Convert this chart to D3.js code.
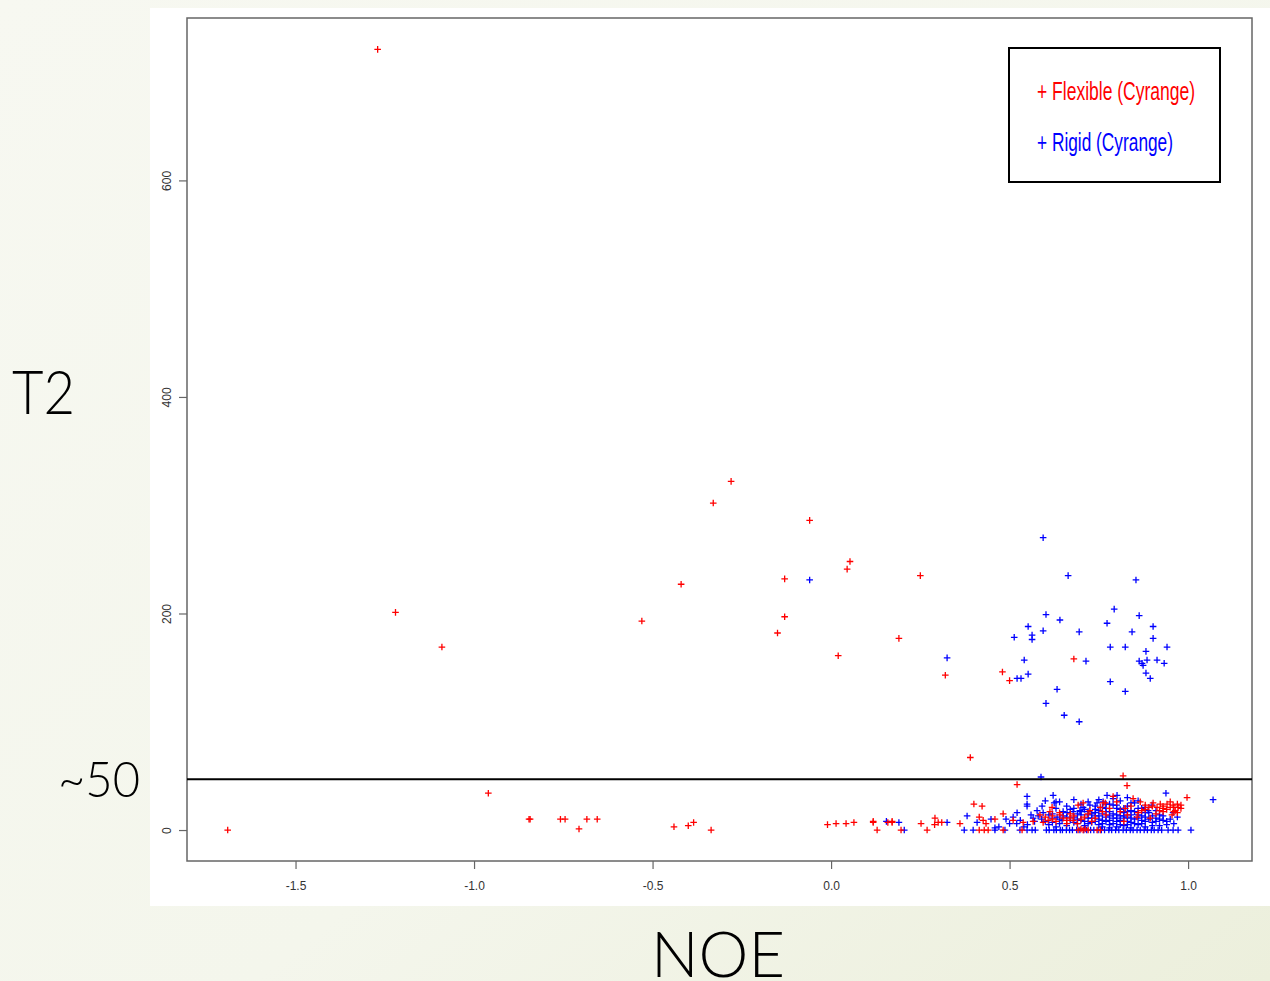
<!DOCTYPE html>
<html>
<head>
<meta charset="utf-8">
<script src="https://cdn.jsdelivr.net/npm/d3@7.9.0/dist/d3.min.js"></script>
<style>
  html, body { margin: 0; padding: 0; }
  body { width: 1270px; height: 981px; overflow: hidden; }
</style>
</head>
<body>
<svg id="chart" width="1270" height="981"></svg>
<script>
// NOE on x, T2 on y; [noe, t2]
const flexible = [
  [-1.69, 0], [-1.27, 721], [-1.22, 201], [-1.09, 169], [-0.96, 34],
  [-0.846, 10], [-0.843, 10], [-0.758, 10], [-0.745, 10], [-0.706, 1],
  [-0.684, 10], [-0.655, 10], [-0.53, 193], [-0.44, 3], [-0.40, 4],
  [-0.385, 7], [-0.42, 227], [-0.336, 0], [-0.33, 302], [-0.28, 322],
  [-0.13, 232], [-0.13, 197], [-0.15, 182], [-0.06, 286], [-0.01, 5],
  [0.014, 6], [0.02, 161], [0.042, 6], [0.045, 241], [0.053, 248],
  [0.064, 7], [0.118, 8], [0.129, 0], [0.159, 7], [0.171, 8],
  [0.19, 177], [0.25, 235], [0.32, 143], [0.39, 67], [0.48, 146],
  [0.50, 138], [0.68, 158],
  [0.118, 7], [0.171, 7], [0.196, 0], [0.252, 6], [0.269, 0],
  [0.291, 11], [0.30, 7], [0.29, 5], [0.31, 7], [0.361, 6],
  [0.40, 24], [0.423, 22], [0.415, 12], [0.426, 9], [0.434, 6],
  [0.415, 0], [0.429, 0], [0.44, 0],
  [0.521, 42], [0.818, 50], [0.829, 41], [0.997, 30], [0.459, 10],
  [0.482, 15], [0.51, 9], [0.538, 7], [0.566, 8], [0.585, 14],
  [0.608, 9], [0.594, 7], [0.619, 21], [0.613, 17], [0.641, 14],
  [0.669, 11], [0.678, 9], [0.692, 23], [0.706, 25], [0.725, 18],
  [0.754, 21], [0.768, 25], [0.79, 31], [0.762, 25], [0.846, 29],
  [0.866, 26], [0.880, 23], [0.902, 25], [0.922, 24], [0.941, 24],
  [0.958, 23], [0.972, 21], [0.913, 21], [0.930, 20], [0.950, 21],
  [0.964, 18], [0.93, 17], [0.955, 14], [0.857, 12], [0.894, 11],
  [0.81, 17], [0.824, 20],
  [0.60, 12], [0.62, 10], [0.63, 8], [0.65, 11], [0.66, 9],
  [0.68, 13], [0.70, 10], [0.71, 12], [0.73, 8], [0.64, 16],
  [0.67, 15], [0.69, 6],
  [0.92, 18], [0.94, 19], [0.96, 17], [0.97, 24], [0.98, 20],
  [0.95, 26], [0.91, 15], [0.89, 21], [0.87, 18], [0.84, 22],
  [0.80, 26], [0.77, 14], [0.82, 8], [0.86, 16],
  [0.74, 11], [0.76, 17], [0.78, 20], [0.83, 14], [0.88, 19],
  [0.90, 22], [0.93, 22], [0.96, 21], [0.97, 16], [0.98, 23],
  [0.62, 13], [0.66, 6], [0.72, 15],
  [0.535, 0], [0.692, 0], [0.706, 0], [0.72, 0], [0.745, 0],
  [0.754, 0], [0.482, 0], [0.70, 1], [0.712, 1]
];

const rigid = [
  [-0.06, 231], [0.155, 8], [0.19, 7], [0.205, 0], [0.325, 7],
  [0.325, 159], [0.381, 13], [0.409, 7], [0.373, 0], [0.398, 0],
  [0.448, 10], [0.459, 2],
  [0.594, 270], [0.664, 235], [0.854, 231], [0.793, 204], [0.863, 198],
  [0.902, 188], [0.902, 177], [0.941, 169], [0.602, 199], [0.641, 194],
  [0.552, 188], [0.513, 178], [0.563, 180], [0.563, 176], [0.594, 184],
  [0.695, 183], [0.773, 191], [0.843, 183], [0.782, 169], [0.824, 169],
  [0.882, 165], [0.863, 156], [0.871, 154], [0.874, 152], [0.885, 157],
  [0.913, 157], [0.933, 154], [0.882, 145], [0.894, 140], [0.714, 156],
  [0.541, 157], [0.521, 140], [0.532, 140], [0.552, 144], [0.782, 137],
  [0.824, 128], [0.633, 130], [0.602, 117], [0.653, 106], [0.695, 100],
  [0.549, 31], [0.549, 24], [0.549, 22], [0.622, 32], [0.630, 26],
  [0.625, 25], [0.591, 22], [0.521, 16], [0.566, 11], [0.577, 18],
  [0.594, 16], [0.633, 12], [0.647, 9], [0.661, 16], [0.678, 17],
  [0.697, 18], [0.706, 21], [0.725, 23], [0.745, 25], [0.762, 26],
  [0.773, 32], [0.801, 32], [0.588, 49], [0.938, 34], [1.07, 28],
  [0.958, 16], [0.899, 23], [0.888, 18],
  [0.60, 8], [0.61, 5], [0.62, 11], [0.64, 6], [0.65, 13],
  [0.66, 4], [0.67, 9], [0.68, 12], [0.69, 6], [0.70, 14],
  [0.70, 9], [0.71, 4], [0.72, 11], [0.72, 17], [0.73, 7],
  [0.74, 13], [0.74, 19], [0.75, 5], [0.75, 10], [0.76, 15],
  [0.76, 21], [0.77, 8], [0.77, 12], [0.78, 17], [0.78, 24],
  [0.79, 6], [0.79, 11], [0.80, 14], [0.80, 20], [0.81, 9],
  [0.81, 27], [0.82, 4], [0.82, 16], [0.83, 12], [0.83, 22],
  [0.84, 7], [0.84, 18], [0.85, 10], [0.85, 25], [0.86, 14],
  [0.86, 5], [0.87, 20], [0.87, 9], [0.88, 12], [0.89, 16],
  [0.90, 7], [0.91, 11], [0.92, 14], [0.93, 9], [0.94, 5],
  [0.71, 19], [0.73, 15], [0.75, 18], [0.77, 20], [0.79, 23],
  [0.81, 19], [0.83, 17], [0.69, 15], [0.67, 19], [0.65, 17],
  [0.63, 20], [0.62, 15], [0.58, 13], [0.57, 8], [0.55, 5],
  [0.53, 9], [0.51, 12], [0.50, 6], [0.49, 10], [0.47, 3],
  [0.76, 3], [0.78, 2], [0.80, 3], [0.84, 2], [0.88, 3],
  [0.92, 4], [0.96, 6], [0.95, 10], [0.97, 12], [0.72, 26],
  [0.75, 28], [0.79, 29], [0.83, 30], [0.86, 27], [0.74, 8],
  [0.78, 9], [0.82, 11], [0.86, 11], [0.70, 24], [0.66, 22],
  [0.64, 26], [0.60, 27], [0.68, 28],
  [0.61, 14], [0.63, 3], [0.66, 12], [0.68, 7], [0.69, 10],
  [0.71, 8], [0.72, 6], [0.73, 11], [0.74, 16], [0.75, 13],
  [0.76, 9], [0.76, 6], [0.77, 17], [0.78, 13], [0.78, 5],
  [0.79, 15], [0.80, 8], [0.80, 11], [0.81, 13], [0.81, 5],
  [0.82, 20], [0.82, 13], [0.83, 8], [0.83, 5], [0.84, 14],
  [0.84, 11], [0.85, 17], [0.85, 6], [0.86, 20], [0.87, 13],
  [0.87, 6], [0.88, 8], [0.88, 16], [0.89, 10], [0.90, 13],
  [0.90, 4], [0.91, 8], [0.92, 10], [0.93, 13], [0.94, 8],
  [0.72, 14], [0.70, 17], [0.68, 20], [0.74, 22], [0.77, 24],
  [0.80, 23], [0.84, 25], [0.88, 21], [0.91, 18], [0.64, 10],
  [0.62, 7], [0.59, 10], [0.56, 14], [0.54, 3], [0.52, 6],
  // the flat row at T2 ~ 0
  [0.459, 0], [0.487, 0], [0.529, 0], [0.549, 0], [0.563, 0],
  [0.572, 0], [0.603, 0], [0.611, 0], [0.624, 0], [0.631, 0],
  [0.642, 0], [0.648, 0], [0.659, 0], [0.668, 0], [0.676, 0],
  [0.688, 0], [0.697, 0], [0.708, 0], [0.716, 0], [0.727, 0],
  [0.736, 0], [0.748, 0], [0.757, 0], [0.766, 0], [0.778, 0],
  [0.786, 0], [0.797, 0], [0.806, 0], [0.818, 0], [0.827, 0],
  [0.838, 0], [0.846, 0], [0.857, 0], [0.866, 0], [0.877, 0],
  [0.886, 0], [0.897, 0], [0.905, 0], [0.916, 0], [0.926, 0],
  [0.944, 0], [0.958, 0], [0.972, 0], [1.008, 0]
];

const xTicks = [-1.5, -1.0, -0.5, 0.0, 0.5, 1.0];
const yTicks = [0, 200, 400, 600];
const cutoff = 47;
const legendLabels = ['Flexible (Cyrange)', 'Rigid (Cyrange)'];
const seriesColors = ['#ff0000', '#0000ff'];

const svg = d3.select('#chart');

// slide background
const defs = svg.append('defs');
const grad = defs.append('linearGradient')
  .attr('id', 'slide').attr('x1', '0').attr('y1', '0').attr('x2', '1').attr('y2', '1');
grad.append('stop').attr('offset', '0').attr('stop-color', '#f7f8f1');
grad.append('stop').attr('offset', '0.6').attr('stop-color', '#f4f6ec');
grad.append('stop').attr('offset', '1').attr('stop-color', '#ecefdc');
svg.append('rect').attr('width', 1270).attr('height', 981).attr('fill', 'url(#slide)');

// white R-plot image
svg.append('rect').attr('x', 150).attr('y', 8).attr('width', 1120).attr('height', 898).attr('fill', '#fff');

const box = { left: 187, right: 1252, top: 18, bottom: 861 };

const x = d3.scaleLinear().domain([-1.804, 1.179]).range([box.left, box.right]);
const y = d3.scaleLinear().domain([-28.6, 750]).range([box.bottom, box.top]);

const fmt = (d) => d3.format('.1f')(d).replace('\u2212', '-');

// axes
const xAxis = svg.append('g')
  .attr('transform', `translate(0,${box.bottom})`)
  .call(d3.axisBottom(x).tickValues(xTicks).tickFormat(fmt).tickSize(8).tickPadding(12));
const yAxis = svg.append('g')
  .attr('transform', `translate(${box.left},0)`)
  .call(d3.axisLeft(y).tickValues(yTicks).tickSize(8).tickPadding(0));

[xAxis, yAxis].forEach((g) => {
  g.select('.domain').remove();
  g.selectAll('line').attr('stroke', '#666').attr('stroke-width', 1.2);
  g.selectAll('text')
    .attr('fill', '#333')
    .style('font-family', '"Liberation Sans", Arial, sans-serif')
    .style('font-size', '12px');
});
yAxis.selectAll('text')
  .attr('x', null).attr('dy', null)
  .attr('text-anchor', 'middle')
  .attr('transform', 'translate(-20,0) rotate(-90)')
  .attr('dy', '0.35em');

svg.append('rect')
  .attr('x', box.left).attr('y', box.top)
  .attr('width', box.right - box.left).attr('height', box.bottom - box.top)
  .attr('fill', 'none').attr('stroke', '#666').attr('stroke-width', 1.5);

// points drawn as "+"
const plot = svg.append('g');
const arm = 3.3;
function drawPlus(data, color) {
  const g = plot.append('g').attr('stroke', color).attr('stroke-width', 1.3).attr('fill', 'none');
  g.selectAll('path')
    .data(data)
    .join('path')
    .attr('d', (d) => {
      const px = x(d[0]);
      const py = y(d[1]);
      return `M${px - arm},${py}H${px + arm}M${px},${py - arm}V${py + arm}`;
    });
}
drawPlus(rigid, seriesColors[1]);
drawPlus(flexible, seriesColors[0]);

// cutoff line
svg.append('line')
  .attr('x1', box.left).attr('x2', box.right)
  .attr('y1', y(cutoff)).attr('y2', y(cutoff))
  .attr('stroke', '#000').attr('stroke-width', 2);

// legend
svg.append('rect')
  .attr('x', 1009).attr('y', 48).attr('width', 211).attr('height', 134)
  .attr('fill', '#fff').attr('stroke', '#000').attr('stroke-width', 2);
const legendWidths = [158, 136];
legendLabels.forEach((label, i) => {
  svg.append('text')
    .attr('x', 1037).attr('y', 100 + i * 51)
    .attr('fill', seriesColors[i])
    .attr('textLength', legendWidths[i])
    .attr('lengthAdjust', 'spacingAndGlyphs')
    .style('font-family', '"Liberation Sans Narrow", "Liberation Sans", Arial, sans-serif')
    .style('font-size', '25px')
    .text('+ ' + label);
});

// slide labels
const slideFont = 'Lato, "DejaVu Sans", sans-serif';
svg.append('text').attr('x', 12).attr('y', 414)
  .attr('textLength', 63).attr('lengthAdjust', 'spacingAndGlyphs')
  .style('font-family', slideFont).style('font-weight', 300).style('font-size', '62px')
  .attr('fill', '#000').text('T2');
svg.append('text').attr('x', 58).attr('y', 797)
  .attr('textLength', 82).attr('lengthAdjust', 'spacingAndGlyphs')
  .style('font-family', slideFont).style('font-weight', 300).style('font-size', '50px')
  .attr('fill', '#000').text('~50');
svg.append('text').attr('x', 651).attr('y', 977)
  .attr('textLength', 134).attr('lengthAdjust', 'spacingAndGlyphs')
  .style('font-family', slideFont).style('font-weight', 300).style('font-size', '63px')
  .attr('fill', '#000').text('NOE');
</script>
</body>
</html>
